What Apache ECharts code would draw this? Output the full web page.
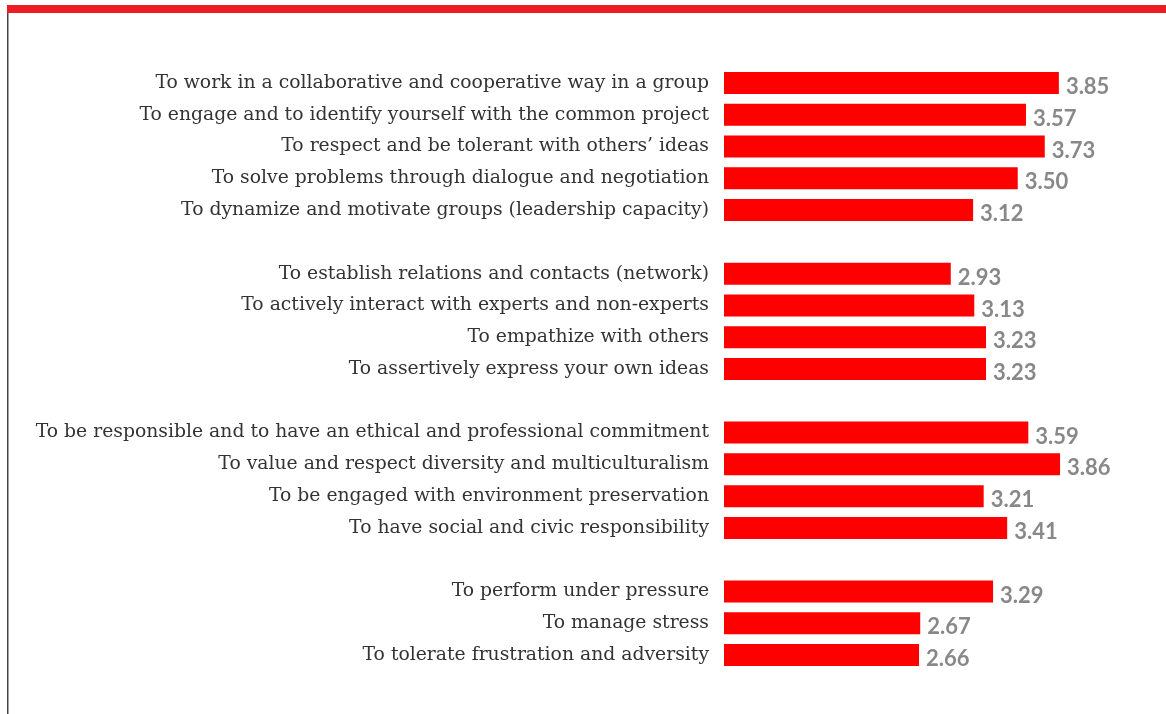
<!DOCTYPE html>
<html><head><meta charset="utf-8">
<script src="https://cdn.jsdelivr.net/npm/echarts@6/dist/echarts.min.js"></script>
<style>html,body{margin:0;padding:0;background:#fff}#c{width:1166px;height:714px}</style>
</head><body><div id="c"></div>
<script>
var categories = [
  'To work in a collaborative and cooperative way in a group',
  'To engage and to identify yourself with the common project',
  'To respect and be tolerant with others\u2019 ideas',
  'To solve problems through dialogue and negotiation',
  'To dynamize and motivate groups (leadership capacity)',
  '',
  'To establish relations and contacts (network)',
  'To actively interact with experts and non-experts',
  'To empathize with others',
  'To assertively express your own ideas',
  '',
  'To be responsible and to have an ethical and professional commitment',
  'To value and respect diversity and multiculturalism',
  'To be engaged with environment preservation',
  'To have social and civic responsibility',
  '',
  'To perform under pressure',
  'To manage stress',
  'To tolerate frustration and adversity'
];
var values = [3.85, 3.57, 3.73, 3.50, 3.12, '-', 2.93, 3.13, 3.23, 3.23, '-', 3.59, 3.86, 3.21, 3.41, '-', 3.29, 2.67, 2.66];

var chart = echarts.init(document.getElementById('c'), null, {renderer: 'canvas'});
chart.setOption({
  animation: false,
  backgroundColor: '#fff',
  graphic: [
    {type: 'rect', shape: {x: 7, y: 5, width: 1160, height: 8}, style: {fill: '#ed1c24'}},
    {type: 'rect', shape: {x: 7, y: 13, width: 1.5, height: 701}, style: {fill: '#444'}}
  ],
  grid: {left: 724, right: 89.5, top: 67, bottom: 43},
  xAxis: {type: 'value', min: 1, max: 4, show: false},
  yAxis: {
    type: 'category', inverse: true, data: categories,
    axisLine: {show: false}, axisTick: {show: false},
    axisLabel: {color: '#333', fontFamily: 'DejaVu Serif', fontSize: 18.8, margin: 15, padding: [4, 0, 0, 0]}
  },
  series: [{
    type: 'bar', data: values, barWidth: 22,
    itemStyle: {color: '#ff0000'},
    label: {
      show: true, position: 'right', distance: 7, offset: [0, 4],
      formatter: function (p) { return p.value.toFixed(2); },
      color: '#888', fontFamily: 'Lato', fontWeight: 'bold', fontSize: 22
    }
  }]
});
</script></body></html>
